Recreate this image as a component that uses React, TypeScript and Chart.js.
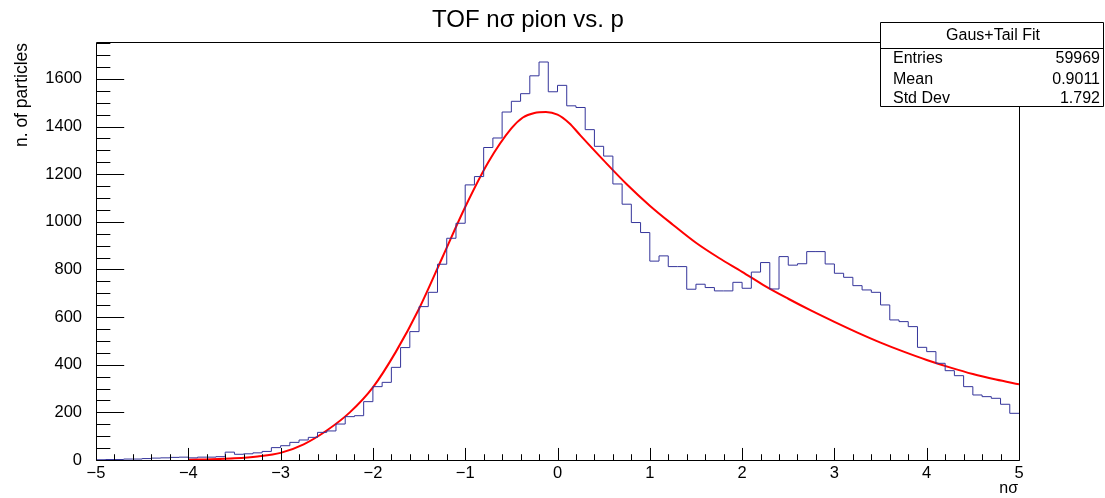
import React, { useEffect, useRef } from "react";
import { Chart, registerables } from "chart.js";

Chart.register(...registerables);

// ---------- data ----------
const X_MIN = -5;
const X_MAX = 5;
const BIN_WIDTH = 0.1;
const Y_MAX = 1755;

// histogram counts, 100 bins of width 0.1 from -5 to 5
const counts = [
  1, 2, 2, 4, 4, 6, 8, 9, 11, 12,
  9, 12, 12, 14, 33, 24, 26, 30, 36, 52,
  60, 74, 84, 95, 116, 122, 151, 182, 186, 245,
  308, 326, 389, 472, 539, 644, 704, 822, 931, 994,
  1155, 1190, 1312, 1352, 1461, 1506, 1538, 1613, 1671, 1546,
  1573, 1487, 1480, 1387, 1317, 1276, 1159, 1074, 997, 955,
  835, 857, 812, 812, 717, 738, 724, 710, 710, 746,
  721, 789, 829, 718, 854, 818, 824, 875, 875, 823,
  784, 767, 732, 714, 704, 651, 588, 581, 560, 473,
  455, 406, 375, 354, 308, 273, 266, 259, 234, 196,
];

// Gaus+Tail fit curve
const fitX = [
  -4, -3.75, -3.5, -3.25, -3, -2.75, -2.5, -2.25, -2, -1.75,
  -1.5, -1.25, -1, -0.75, -0.5, -0.375, -0.25, -0.125, 0, 0.125,
  0.25, 0.5, 0.75, 1.0, 1.25, 1.5, 1.75, 2.0, 2.25, 2.5,
  2.75, 3.0, 3.25, 3.5, 3.75, 4.0, 4.25, 4.5, 4.75, 5.0,
];
const fitY = [
  1, 3, 7, 15, 30, 66, 124, 200, 305, 455,
  635, 848, 1062, 1250, 1392, 1438, 1457, 1461, 1450, 1415,
  1362, 1258, 1158, 1068, 988, 912, 848, 790, 730, 677,
  627, 580, 535, 493, 455, 420, 389, 361, 338, 318,
];

const TITLE = "TOF nσ pion vs. p";
const X_TITLE = "nσ";
const Y_TITLE = "n. of particles";
const STATS_TITLE = "Gaus+Tail Fit";
const statsLabels = ["Entries", "Mean", "Std Dev"];
const statsValues = ["59969", "0.9011", "1.792"];

const X_MAJOR = 1;
const X_MINOR = 0.2;
const Y_MAJOR = 200;
const Y_MINOR = 50;

const FONT = '"Liberation Sans", Arial, Helvetica, sans-serif';
const HIST_COLOR = "#34349a";
const FIT_COLOR = "#ff0000";

const rootPlugin = {
  id: "rootDecor",
  afterDatasetsDraw(chart: any) {
    const { ctx, chartArea: a, scales } = chart;
    const xs = scales.x;
    const ys = scales.y;
    ctx.save();
    ctx.strokeStyle = "#000";
    ctx.lineWidth = 1;
    ctx.beginPath();
    const L = Math.round(a.left) + 0.5;
    const R = Math.round(a.right) + 0.5;
    const T = Math.round(a.top) + 0.5;
    const B = Math.round(a.bottom) + 0.5;
    ctx.moveTo(L, T);
    ctx.lineTo(R, T);
    ctx.lineTo(R, B);
    ctx.lineTo(L, B);
    ctx.closePath();
    const xMajLen = 0.03 * (a.bottom - a.top);
    const yMajLen = 0.03 * (a.right - a.left);
    const nx = Math.round((X_MAX - X_MIN) / X_MINOR);
    for (let k = 0; k <= nx; k++) {
      const v = X_MIN + k * X_MINOR;
      const px = Math.round(xs.getPixelForValue(v)) + 0.5;
      const major = Math.abs(v / X_MAJOR - Math.round(v / X_MAJOR)) < 1e-6;
      const len = major ? xMajLen : xMajLen / 2;
      ctx.moveTo(px, B);
      ctx.lineTo(px, B - len);
    }
    for (let v = 0; v <= Y_MAX; v += Y_MINOR) {
      const py = Math.round(ys.getPixelForValue(v)) + 0.5;
      const len = v % Y_MAJOR === 0 ? yMajLen : yMajLen / 2;
      ctx.moveTo(L, py);
      ctx.lineTo(L + len, py);
    }
    ctx.stroke();

    ctx.fillStyle = "#000";
    // title
    ctx.font = `24px ${FONT}`;
    ctx.textAlign = "center";
    ctx.textBaseline = "alphabetic";
    ctx.fillText(TITLE, 528, 26.5);

    // x title
    ctx.font = `16px ${FONT}`;
    ctx.textAlign = "right";
    ctx.fillText(X_TITLE, a.right - 1, 493);

    // y title
    ctx.save();
    ctx.translate(22.5, a.top + 1);
    ctx.rotate(-Math.PI / 2);
    ctx.textAlign = "right";
    ctx.textBaseline = "middle";
    ctx.font = `17.5px ${FONT}`;
    ctx.fillText(Y_TITLE, 0, 0);
    ctx.restore();

    // stats box
    const bx = 880.5, by = 22.5, bw = 223, bh = 84;
    ctx.fillStyle = "#fff";
    ctx.fillRect(bx, by, bw, bh);
    ctx.beginPath();
    ctx.rect(bx, by, bw, bh);
    ctx.moveTo(bx, 48.5);
    ctx.lineTo(bx + bw, 48.5);
    ctx.stroke();
    ctx.fillStyle = "#000";
    ctx.font = `16px ${FONT}`;
    ctx.textAlign = "center";
    ctx.fillText(STATS_TITLE, 993, 40);
    const rowsY = [63, 84, 103];
    statsLabels.forEach((lab, i) => {
      ctx.textAlign = "left";
      ctx.fillText(lab, 893, rowsY[i]);
      ctx.textAlign = "right";
      ctx.fillText(statsValues[i], 1100, rowsY[i]);
    });
    ctx.restore();
  },
};

export default function App() {
  const ref = useRef<HTMLCanvasElement | null>(null);

  useEffect(() => {
    if (!ref.current) return;
    const histData = counts.map((c, i) => ({
      x: Math.round((X_MIN + i * BIN_WIDTH) * 10) / 10,
      y: c,
    }));
    histData.push({ x: X_MAX, y: counts[counts.length - 1] });
    const fitData = fitX.map((x, i) => ({ x, y: fitY[i] }));

    const chart = new Chart(ref.current, {
      type: "line",
      data: {
        datasets: [
          {
            label: "hist",
            data: histData,
            borderColor: HIST_COLOR,
            borderWidth: 1,
            pointRadius: 0,
            fill: false,
            stepped: "before",
            tension: 0,
          },
          {
            label: "fit",
            data: fitData,
            borderColor: FIT_COLOR,
            borderWidth: 2,
            pointRadius: 0,
            fill: false,
            cubicInterpolationMode: "monotone",
          },
        ],
      },
      options: {
        animation: false,
        responsive: false,
        devicePixelRatio: 1,
        layout: { padding: { left: 0, right: 86, top: 42, bottom: 0 } },
        plugins: {
          legend: { display: false },
          tooltip: { enabled: false },
          title: { display: false },
        },
        scales: {
          x: {
            type: "linear",
            min: X_MIN,
            max: X_MAX,
            grid: { display: false },
            border: { display: false },
            ticks: {
              stepSize: X_MAJOR,
              color: "#000",
              font: { family: FONT, size: 16.5 },
              padding: -4,
              maxRotation: 0,
              autoSkip: false,
              callback: (v: any) => String(v).replace("-", "\u2212"),
            },
            afterFit: (s: any) => {
              s.height = 38;
            },
          },
          y: {
            type: "linear",
            min: 0,
            max: Y_MAX,
            grid: { display: false },
            border: { display: false },
            ticks: {
              stepSize: Y_MAJOR,
              includeBounds: false,
              color: "#000",
              font: { family: FONT, size: 16.5 },
              padding: 6,
              callback: (v: any) => (Number(v) % Y_MAJOR === 0 ? String(v) : ""),
            },
            afterFit: (s: any) => {
              s.width = 96;
            },
          },
        },
      },
      plugins: [rootPlugin],
    });
    return () => chart.destroy();
  }, []);

  return (
    <div
      style={{
        position: "absolute",
        left: 0,
        top: 0,
        width: 1105,
        height: 498,
        background: "#fff",
      }}
    >
      <canvas ref={ref} width={1105} height={498} style={{ width: 1105, height: 498 }} />
    </div>
  );
}
